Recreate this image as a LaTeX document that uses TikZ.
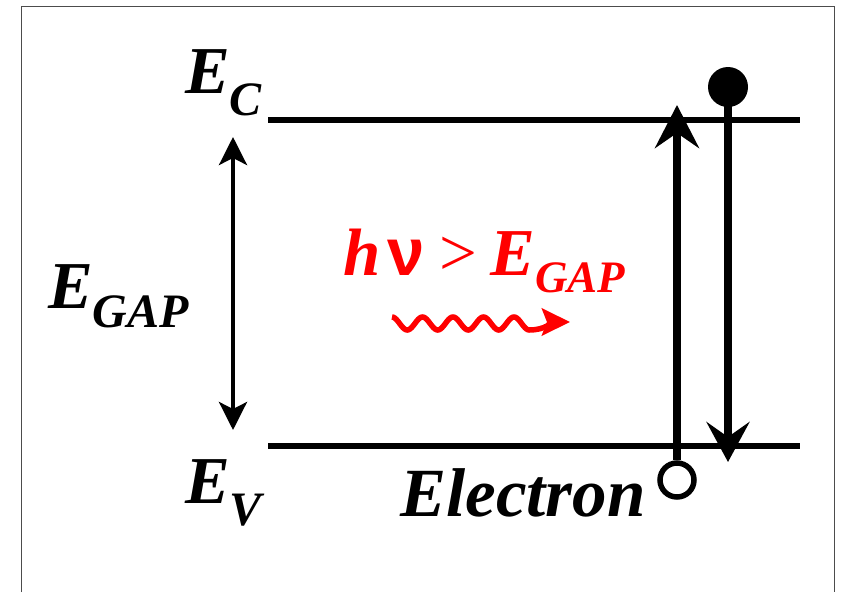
\documentclass[tikz,border=0pt]{standalone}
\usepackage{fontspec}
\setmainfont{Liberation Serif}
\newfontfamily\nufont{Liberation Sans}
\usetikzlibrary{arrows.meta}
\newcommand{\bigf}{\fontsize{67}{67}\selectfont}
\newcommand{\subf}{\fontsize{48}{48}\selectfont}
\newcommand{\redsubf}{\fontsize{45}{45}\selectfont}
\begin{document}
\begin{tikzpicture}[x=1pt,y=-1pt,
  lbl/.style={anchor=base west, inner sep=0pt, font=\bfseries\itshape\bigf},
  band/.style={line width=5.5pt},
  trans/.style={line width=8pt},
  gaparrow/.style={line width=4pt, {Stealth[length=28pt,width=28pt,inset=7pt]}-{Stealth[length=28pt,width=28pt,inset=7pt]}},
  photon/.style={red, line width=5.5pt, -{Stealth[length=28pt,width=27pt,inset=5pt]}},
  frame/.style={draw=black!70, line width=1pt}]
\useasboundingbox (0,0) rectangle (841,592);
\draw[frame] (21,592) -- (21,6) -- (834,6) -- (834,592);

% band edges
\coordinate (ecL) at (268,120); \coordinate (ecR) at (800,120);
\coordinate (evL) at (268,446); \coordinate (evR) at (800,446);
\draw[band] (ecL) -- (ecR);
\draw[band] (evL) -- (evR);

% labels
\node[lbl] (ec) at (185,93) {E\raisebox{-22pt}{\subf C}};
\node[lbl] (ev) at (185,503) {E\raisebox{-22pt}{\subf V}};
\node[lbl] (egap) at (48,308) {E\raisebox{-19pt}{\subf GAP}};
\node[lbl, font=\bfseries\itshape\fontsize{69}{69}\selectfont] (el) at (400,516) {Electron};
\node[lbl, red] (hv) at (343,275) {h\hspace{7pt}{\nufont\bfseries\upshape ν}\hspace{15pt}{\normalfont >}\hspace{13pt}E\raisebox{-17pt}{\redsubf GAP}};

% gap arrow
\coordinate (gtop) at (233,137); \coordinate (gbot) at (233,430);
\draw[gaparrow] (gbot) -- (gtop);

% hole + up transition
\node[circle, draw, line width=5.5pt, minimum size=34pt, inner sep=0pt, fill=white] (hole) at (677,480) {};
\coordinate (uptip) at (677,105);
\draw[trans, -{Stealth[length=43pt,width=44pt,inset=15pt]}] (hole) -- (uptip);

% electron + down transition
\node[circle, fill, minimum size=40pt, inner sep=0pt] (elec) at (728,87) {};
\coordinate (downtip) at (728,462);
\draw[trans, -{Stealth[length=40pt,width=43pt,inset=15pt]}] (elec.center) -- (downtip);

% photon
\coordinate (wend) at (570,322);
\draw[photon] plot[domain=0:1620, samples=100, smooth] ({392+0.08472*\x},{323.5-6.5*cos(\x)}) to[out=0,in=180] (wend);
\end{tikzpicture}
\end{document}
